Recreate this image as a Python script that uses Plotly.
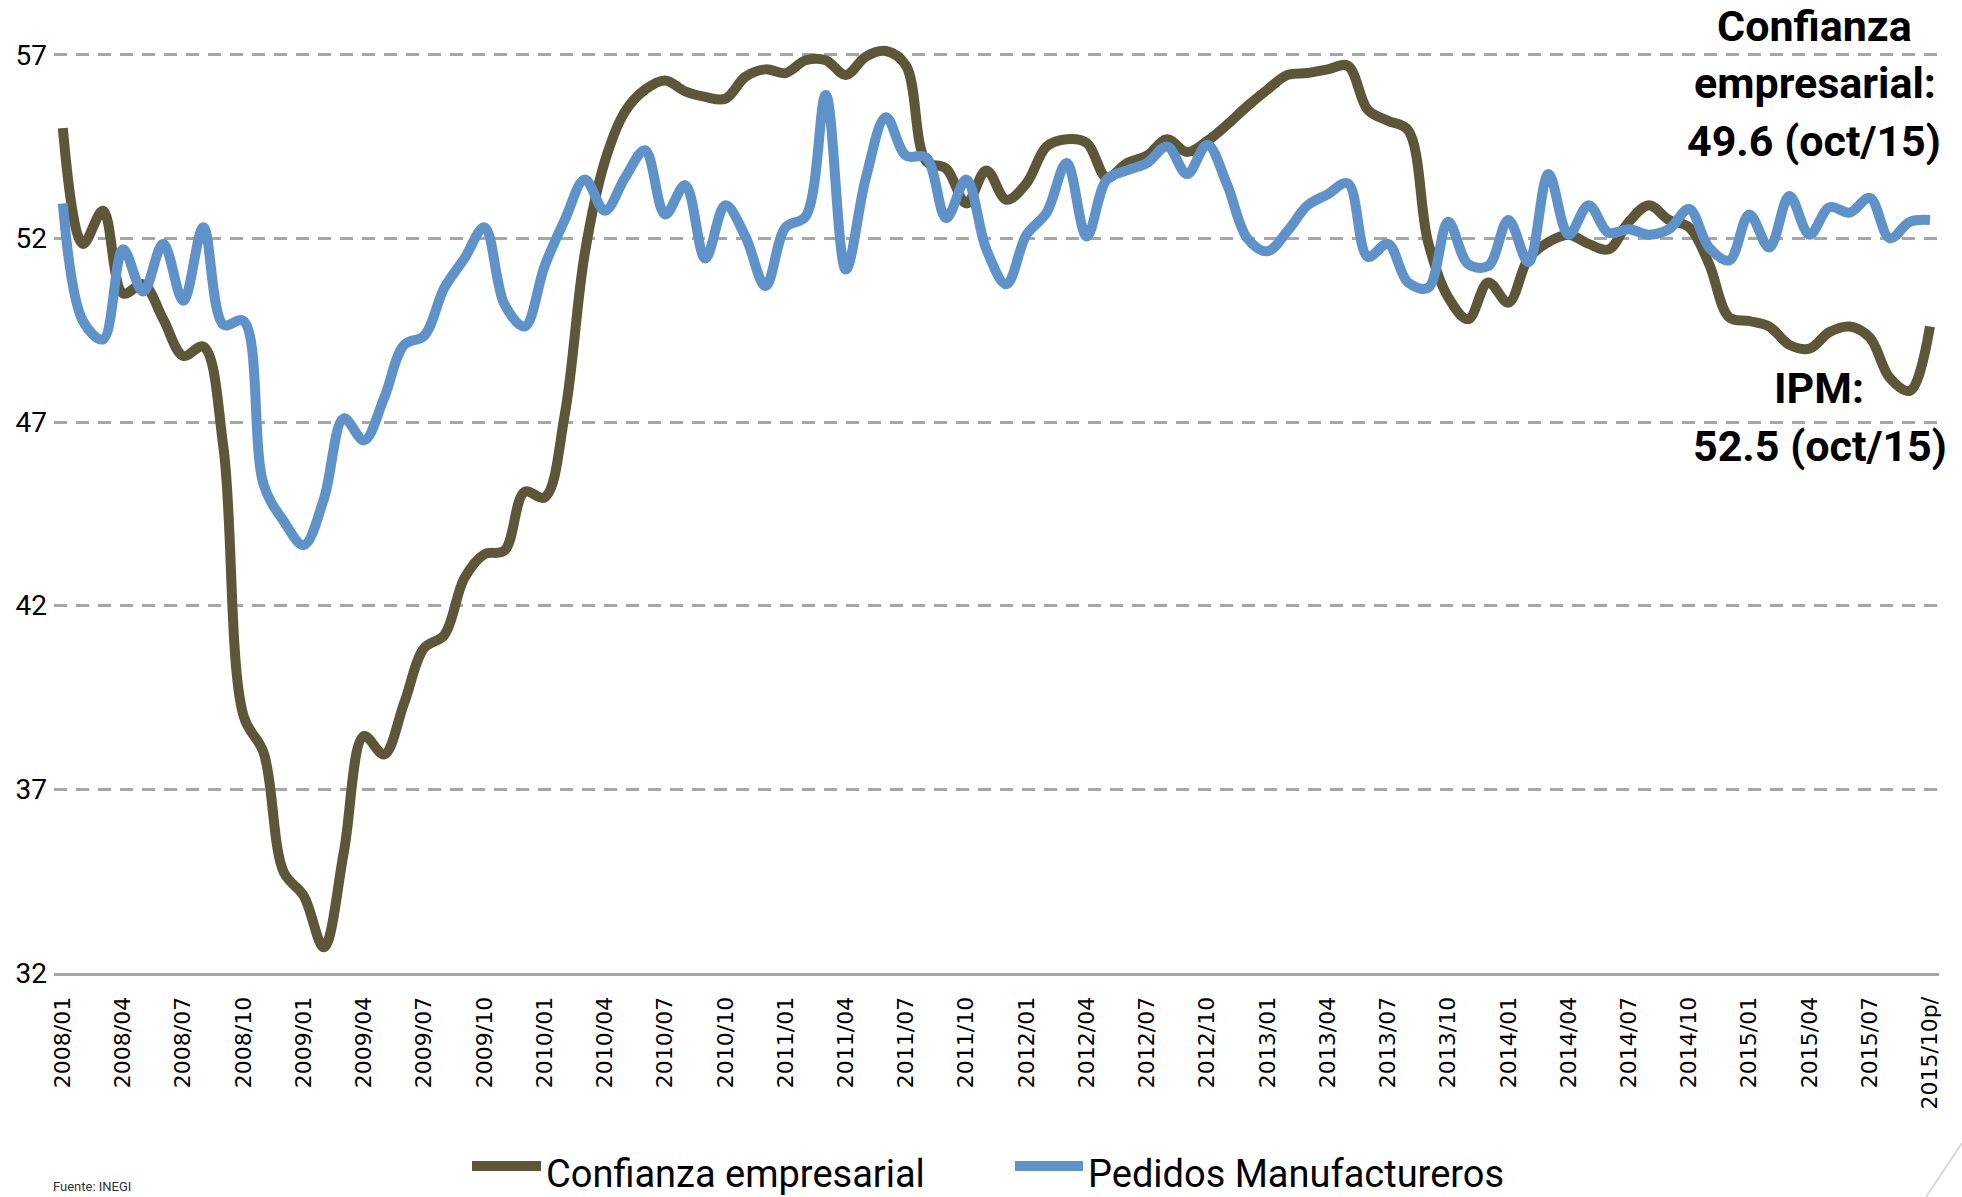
import plotly.graph_objects as go

# Monthly categories, Jan 2008 .. Oct 2015 (last one is preliminary)
months = [f"{y}/{m:02d}" for y in range(2008, 2016) for m in range(1, 13)][:94]
months[-1] = "2015/10p/"

# Indicador de confianza empresarial (manufacturas)
confianza = [
    55.0, 51.85, 52.75, 50.5, 50.75, 49.8, 48.8, 49.05, 46.3, 39.0,
    38.0, 34.75, 34.1, 32.7, 35.3, 38.45, 37.95, 39.35, 40.85, 41.2,
    42.75, 43.4, 43.5, 45.1, 44.95, 47.2, 51.6, 54.1, 55.45, 56.05,
    56.3, 56.0, 55.85, 55.8, 56.4, 56.6, 56.5, 56.85, 56.85, 56.45,
    56.95, 57.1, 56.7, 54.1, 53.9, 52.95, 53.85, 53.05, 53.5, 54.5,
    54.7, 54.6, 53.65, 54.05, 54.25, 54.7, 54.35, 54.65, 55.1, 55.6,
    56.05, 56.45, 56.5, 56.6, 56.7, 55.5, 55.2, 54.95, 51.9, 50.4,
    49.8, 50.8, 50.25, 51.45, 51.9, 52.1, 51.85, 51.7, 52.45, 52.9,
    52.5, 52.3, 51.3, 49.85, 49.75, 49.6, 49.1, 49.0, 49.45, 49.6,
    49.3, 48.2, 47.85, 49.6,
]

# Indicador de pedidos manufactureros (IPM)
pedidos = [
    52.95, 49.75, 49.25, 51.7, 50.55, 51.85, 50.3, 52.3, 49.65, 49.75,
    45.3, 44.3, 43.65, 44.9, 47.1, 46.5, 47.65, 49.1, 49.35, 50.65,
    51.45, 52.3, 50.2, 49.6, 51.25, 52.5, 53.6, 52.75, 53.65, 54.4,
    52.65, 53.45, 51.45, 52.9, 52.05, 50.7, 52.3, 52.6, 55.9, 51.15,
    53.65, 55.3, 54.25, 54.2, 52.55, 53.6, 51.7, 50.75, 52.1, 52.7,
    54.05, 52.05, 53.6, 53.85, 54.05, 54.5, 53.75, 54.55, 53.45, 52.0,
    51.65, 52.2, 52.9, 53.2, 53.5, 51.5, 51.85, 50.8, 50.65, 52.45,
    51.3, 51.25, 52.5, 51.35, 53.75, 52.1, 52.9, 52.15, 52.25, 52.1,
    52.25, 52.8, 51.75, 51.4, 52.65, 51.75, 53.15, 52.1, 52.85, 52.7,
    53.1, 52.0, 52.45, 52.5,
]

y_ticks = [32, 37, 42, 47, 52, 57]
x_ticks = months[::3]

series_names = ["Confianza empresarial", "Pedidos Manufactureros"]
series_colors = ["#5e5639", "#5f92c9"]

W, H = 1962, 1197
L, R, T, B = 54, 23, 40, 224
PW, PH = W - L - R, H - T - B


def px(x):
    return (x - L) / PW


def py(y):
    return (H - B - y) / PH


fig = go.Figure()
for name, vals, col in zip(series_names, [confianza, pedidos], series_colors):
    fig.add_trace(go.Scatter(
        x=months, y=vals, mode="lines", name=name,
        line=dict(color=col, width=10, shape="spline", smoothing=1.0),
        showlegend=False, hoverinfo="x+y",
    ))

FONT = "Roboto, Arial, sans-serif"
annotations = []
# Callouts at the right edge
callouts = [
    ("Confianza", 1814, 26),
    ("empresarial:", 1815, 82.5),
    ("49.6 (oct/15)", 1814, 141),
    ("IPM:", 1819, 387.5),
    ("52.5 (oct/15)", 1820, 446),
]
for txt, cx, cy in callouts:
    annotations.append(dict(
        text=f"<b>{txt}</b>", x=px(cx), y=py(cy), xref="paper", yref="paper",
        xanchor="center", yanchor="middle", showarrow=False,
        font=dict(family=FONT, size=43, color="#000000"),
    ))

# Legend drawn below the axis
shapes = []
legend_items = [(472, 541, 544), (1015, 1083, 1086)]
for (x0, x1, tx), name, col in zip(legend_items, series_names, series_colors):
    shapes.append(dict(
        type="line", xref="paper", yref="paper",
        x0=px(x0), x1=px(x1), y0=py(1166), y1=py(1166),
        line=dict(color=col, width=10),
    ))
    annotations.append(dict(
        text=name, x=px(tx), y=py(1174), xref="paper", yref="paper",
        xanchor="left", yanchor="middle", showarrow=False,
        font=dict(family=FONT, size=38, color="#000000"),
    ))

annotations.append(dict(
    text="Fuente: INEGI", x=px(51), y=py(1196), xref="paper", yref="paper",
    xanchor="left", yanchor="bottom", showarrow=False,
    font=dict(family=FONT, size=13, color="#333333"),
))

# Thin decorative stroke in the lower-right corner
shapes.append(dict(
    type="line", xref="paper", yref="paper",
    x0=px(1962), y0=py(1143), x1=px(1926), y1=py(1197),
    line=dict(color="#d9d9d9", width=2),
))

fig.update_layout(
    width=W, height=H,
    margin=dict(l=L, r=R, t=T, b=B, pad=0),
    paper_bgcolor="white", plot_bgcolor="white",
    showlegend=False,
    annotations=annotations,
    shapes=shapes,
    xaxis=dict(
        type="category", range=[-0.44, 93.45],
        tickvals=x_ticks, ticktext=x_ticks, tickangle=-90,
        tickfont=dict(family="DejaVu Sans, sans-serif", size=22, color="#000000"),
        ticks="", ticklabelstandoff=12,
        showgrid=False, zeroline=False,
        showline=True, linecolor="#a6a6a6", linewidth=3,
    ),
    yaxis=dict(
        range=[32, 57.4], tickvals=y_ticks,
        tickfont=dict(family=FONT, size=28, color="#000000"),
        ticks="", ticklabelstandoff=6,
        showgrid=True, gridcolor="#a6a6a6", gridwidth=3, griddash="13px,9px",
        zeroline=False, showline=False,
    ),
)

fig.write_html("out.html")
